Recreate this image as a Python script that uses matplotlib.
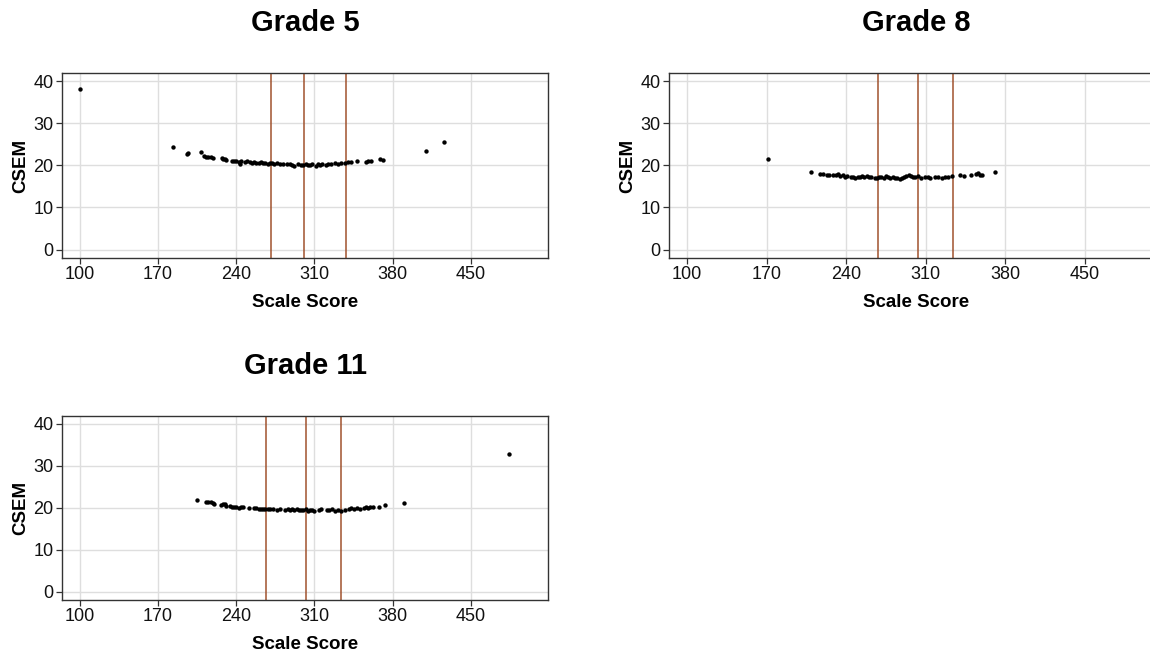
import matplotlib
matplotlib.use("Agg")
import matplotlib.pyplot as plt

plt.rcParams['font.family'] = ['Liberation Sans', 'DejaVu Sans']

# Grade 5
g5_score = [100, 183, 196, 197, 208, 211, 213, 215, 217, 219, 227, 228, 230, 231, 236,
            238, 240, 242, 243, 244, 248, 250, 252, 254, 256, 258, 260, 262, 264, 266,
            268, 270, 272, 274, 276, 279, 282, 285, 288, 290, 292, 295, 298, 300, 302,
            304, 306, 308, 311, 313, 315, 317, 320, 322, 325, 328, 331, 334, 337, 340,
            343, 348, 356, 358, 361, 369, 371, 410, 426]
g5_csem = [38.2, 24.4, 22.7, 23.0, 23.1, 22.1, 22.0, 21.9, 22.0, 21.7, 21.7, 21.4, 21.5, 21.2, 21.0,
           20.9, 21.0, 20.7, 20.4, 21.0, 20.8, 20.9, 20.8, 20.6, 20.7, 20.6, 20.5, 20.7, 20.5, 20.6,
           20.4, 20.5, 20.6, 20.4, 20.5, 20.3, 20.4, 20.2, 20.4, 20.0, 19.8, 20.2, 20.1, 20.0, 20.2,
           20.1, 20.0, 20.2, 19.9, 20.3, 20.1, 20.4, 20.0, 20.2, 20.3, 20.5, 20.4, 20.6, 20.5, 20.7,
           20.8, 20.9, 20.8, 21.1, 21.0, 21.4, 21.2, 23.4, 25.5]
g5_cuts = [271, 301, 338]

# Grade 8
g8_score = [171, 209, 217, 220, 223, 225, 228, 231, 233, 235, 237, 239, 241, 244, 246,
            248, 250, 252, 254, 256, 258, 260, 262, 265, 267, 269, 271, 273, 275, 277,
            279, 281, 283, 285, 287, 289, 291, 293, 295, 297, 299, 301, 303, 306, 309,
            312, 314, 318, 321, 324, 327, 330, 333, 340, 344, 350, 354, 356, 358, 360, 371]
g8_csem = [21.5, 18.5, 18.0, 18.0, 17.8, 17.8, 17.7, 17.6, 17.9, 17.5, 17.6, 17.3, 17.4, 17.2, 17.3,
           17.1, 17.3, 17.2, 17.4, 17.3, 17.5, 17.3, 17.2, 17.1, 17.0, 17.2, 17.3, 17.1, 17.4, 17.2,
           17.1, 17.3, 17.0, 16.9, 16.8, 17.0, 17.2, 17.4, 17.6, 17.5, 17.3, 17.2, 17.4, 17.1, 17.2,
           17.3, 17.1, 17.2, 17.3, 17.1, 17.2, 17.3, 17.4, 17.7, 17.5, 17.8, 17.9, 18.2, 17.8, 17.6, 18.5]
g8_cuts = [268, 303, 334]

# Grade 11
g11_score = [205, 213, 215, 217, 219, 220, 226, 228, 230, 231, 234, 236, 238, 240, 242,
             244, 246, 251, 256, 258, 260, 262, 264, 266, 268, 270, 273, 276, 279, 284,
             286, 288, 290, 292, 294, 296, 298, 300, 302, 304, 306, 308, 310, 314, 316,
             321, 323, 326, 328, 331, 334, 337, 341, 343, 345, 348, 351, 354, 356, 358,
             360, 362, 368, 373, 390, 484]
g11_csem = [21.9, 21.4, 21.3, 21.4, 21.1, 20.9, 20.6, 20.8, 21.0, 20.5, 20.4, 20.2, 20.3, 20.1, 20.0,
            20.2, 20.3, 20.0, 19.9, 20.0, 19.7, 19.8, 19.6, 19.8, 19.7, 19.6, 19.7, 19.5, 19.6, 19.4,
            19.6, 19.5, 19.7, 19.5, 19.6, 19.4, 19.5, 19.4, 19.6, 19.3, 19.5, 19.4, 19.3, 19.5, 19.6,
            19.4, 19.5, 19.6, 19.3, 19.4, 19.2, 19.4, 19.6, 19.9, 19.8, 19.9, 19.8, 20.0, 20.1, 19.9,
            20.2, 20.3, 20.1, 20.7, 21.1, 32.8]
g11_cuts = [267, 302, 334]

x_ticks = [100, 170, 240, 310, 380, 450]
y_ticks = [0, 10, 20, 30, 40]

W, H = 1150, 658
fig = plt.figure(figsize=(11.5, 6.58), dpi=100)

# axes boxes in pixels: left, top, width, height
boxes = [(62, 73, 486, 185), (669, 73, 494, 185), (62, 416, 486, 184)]
panels = [("Grade 5", g5_score, g5_csem, g5_cuts),
          ("Grade 8", g8_score, g8_csem, g8_cuts),
          ("Grade 11", g11_score, g11_csem, g11_cuts)]

for (l, t, w, h), (title, xs, ys, cuts) in zip(boxes, panels):
    ax = fig.add_axes([l / W, (H - t - h) / H, w / W, h / H])
    ax.set_axisbelow(True)
    ax.grid(True, color='#DEDEDE', linewidth=1.0)
    for c in cuts:
        ax.axvline(c, color='#A0522D', linewidth=1.1)
    ax.scatter(xs, ys, s=10, color='black', zorder=3, linewidths=0)
    ax.set_xlim(84, 519)
    ax.set_ylim(-2.0, 41.9)
    ax.set_xticks(x_ticks)
    ax.set_yticks(y_ticks)
    ax.tick_params(labelsize=13, colors='#333333', labelcolor='#111111', length=4, width=0.9, pad=2)
    for sp in ax.spines.values():
        sp.set_color('#333333')
        sp.set_linewidth(1.0)
    ax.set_xlabel('Scale Score', fontsize=13.5, fontweight='bold', labelpad=8)
    ax.set_ylabel('CSEM', fontsize=13.5, fontweight='bold', labelpad=3)
    ax.set_title(title, fontsize=21, fontweight='bold', pad=30)

fig.savefig('out.png', dpi=100)
